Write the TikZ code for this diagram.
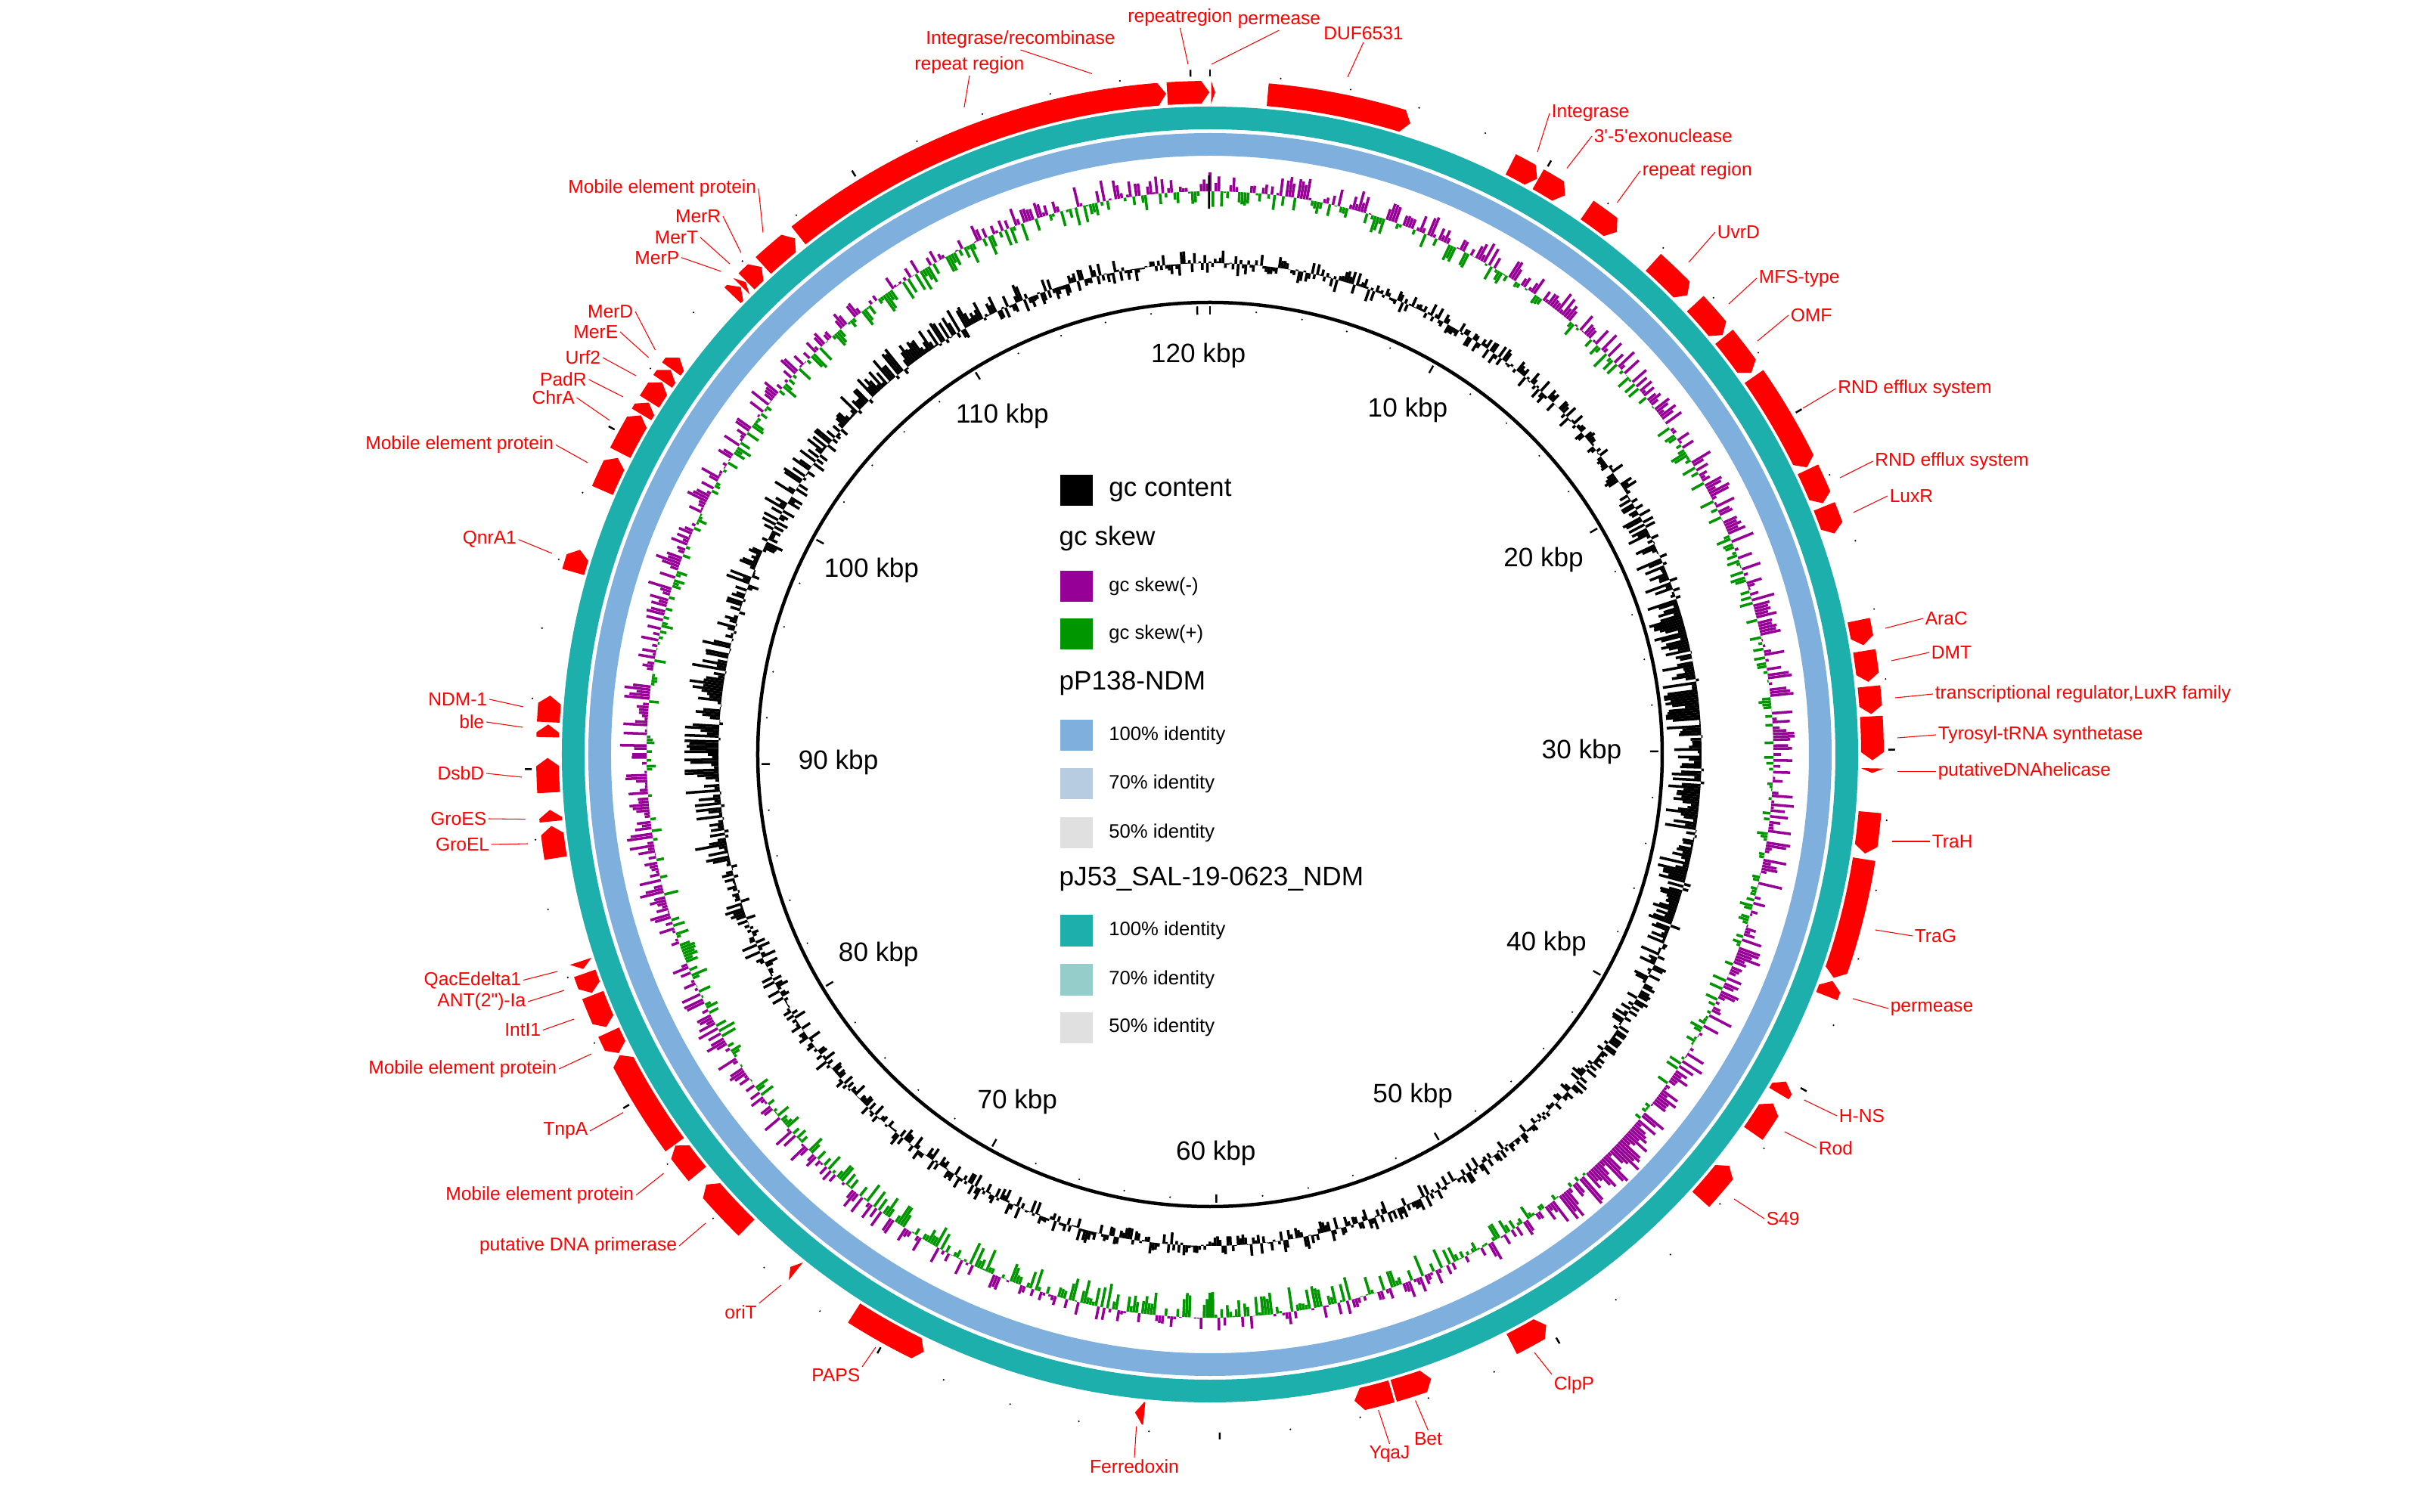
\documentclass[tikz,border=0pt]{standalone}
\usepackage{fontspec}
\setmainfont{Liberation Sans}
\usepackage{tikz}
\usetikzlibrary{positioning}

\definecolor{genered}{RGB}{255,0,0}
\definecolor{skewneg}{RGB}{150,0,150}
\definecolor{skewpos}{RGB}{0,150,0}
\definecolor{ringblue}{RGB}{127,175,221}
\definecolor{ringblue70}{RGB}{183,204,224}
\definecolor{ringteal}{RGB}{28,175,172}
\definecolor{ringteal70}{RGB}{148,205,202}
\definecolor{ringgray}{RGB}{224,224,224}

\newcommand{\rin}{8.61}
\newcommand{\rout}{8.91}
\newcommand{\rmid}{8.76}
\newcommand{\plen}{120.55}
\newcommand{\bump}[3]{max(0,1-((#1-(#2))/(#3))^2)}

% one feature arrow: start, end (degrees clockwise from top), direction 1 / -1
\newcommand{\gene}[3]{%
  \pgfmathsetmacro{\gt}{min(0.7,#2-#1)}%
  \ifnum#3>0
    \pgfmathsetmacro{\gs}{90-(#1)}\pgfmathsetmacro{\gp}{90-(#2)}\pgfmathsetmacro{\gk}{\gp+\gt}%
  \else
    \pgfmathsetmacro{\gs}{90-(#2)}\pgfmathsetmacro{\gp}{90-(#1)}\pgfmathsetmacro{\gk}{\gp-\gt}%
  \fi
  \fill[gene] (\gs:\rout) arc[start angle=\gs, end angle=\gk, radius=\rout] -- (\gp:\rmid) -- (\gk:\rin) arc[start angle=\gk, end angle=\gs, radius=\rin] -- cycle;%
}

\begin{document}
\begin{tikzpicture}
	\tikzstyle{gene}=[fill=genered]
	\tikzstyle{gclab}=[red, font=\fontsize{7}{8}\selectfont, inner sep=0.6pt]
	\tikzstyle{leader}=[red, line width=0.3pt]
	\tikzstyle{kbp}=[font=\fontsize{10}{12}\selectfont, inner sep=0pt]
	\tikzstyle{gcbar}=[black, line width=1pt]
	\tikzstyle{skewbar}=[line width=1pt]
	\tikzstyle{key}=[minimum width=0.43cm, minimum height=0.41cm, inner sep=0pt]
	\tikzstyle{keyhead}=[font=\fontsize{10}{12}\selectfont, inner sep=0pt, anchor=west]
	\tikzstyle{keytxt}=[font=\fontsize{7.3}{9}\selectfont, inner sep=0pt]
	\useasboundingbox (-16,-10.02) rectangle (16,9.98);
	\fill[white] (-16,-10.02) rectangle (16,9.98);
	% BLAST rings
	\fill[ringteal, even odd rule] (0,0) circle (8.57) (0,0) circle (8.27);
	\fill[ringblue, even odd rule] (0,0) circle (8.22) (0,0) circle (7.92);
	% gc content and gc skew
	\pgfmathsetseed{2024}
	\foreach \i in {0,...,1199}{
		\pgfmathsetmacro{\tht}{\i*0.3}
		\pgfmathsetmacro{\ph}{90-\tht}
		\pgfmathsetmacro{\vg}{max(-45,min(45,-24*\bump{\tht}{88}{30}+24*\bump{\tht}{272}{24}+12*\bump{\tht}{318}{22}+(17+12*\bump{\tht}{88}{35}+12*\bump{\tht}{275}{35}+8*\bump{\tht}{320}{25})*rand))}
		\draw[gcbar] (\ph:6.50) -- (\ph:{6.50+\vg/100});
		\pgfmathsetmacro{\vs}{max(-45,min(45,3+5*\bump{\tht}{100}{45}+16*\bump{\tht}{137}{8}-12*\bump{\tht}{185}{40}+7*\bump{\tht}{275}{30}-5*\bump{\tht}{330}{20}+26*rand))}
		\ifdim\vs pt>0pt \def\skc{skewneg}\else\def\skc{skewpos}\fi
		\draw[skewbar, \skc] (\ph:7.45) -- (\ph:{7.45+\vs/100});
	}
	\draw[line width=0.8pt] (90.1:7.22) -- (90.1:7.66);
	% scale circle and ticks
	\draw[line width=0.045cm] (0,0) circle (5.98);
	\pgfmathsetmacro{\stepang}{720/\plen}
	\foreach \k in {0,...,60}{
		\pgfmathsetmacro{\ph}{90-\k*\stepang}
		\pgfmathtruncatemacro{\maj}{mod(\k,5)==0}
		\ifnum\maj=1
			\draw[line width=0.7pt] (\ph:5.82) -- (\ph:5.93);
			\draw[line width=0.7pt] (\ph:8.97) -- (\ph:9.06);
		\else
			\fill (\ph:5.88) circle (0.012);
			\fill (\ph:8.99) circle (0.012);
		\fi
	}
	\foreach \k in {1,...,12}{
		\pgfmathsetmacro{\ph}{90-5*\k*\stepang}
		\pgfmathtruncatemacro{\an}{mod(\ph+720,360)}
		\node[kbp, anchor=\an] (kbp\k) at (\ph:5.45) {\k0 kbp};
	}
	% features
	\foreach \a/\b/\d in {321.6/356.2/1, 356.3/359.95/1, 0.1/0.45/1, 5.0/17.6/1,
		27.0/29.6/1, 29.7/32.4/1, 34.7/37.9/1, 42.0/46.1/1, 47.1/50.7/1, 50.9/54.8/1,
		55.2/64.3/1, 64.5/67.7/1, 68.0/70.5/1, 78.3/80.5/1, 81.0/83.7/1, 84.1/86.5/1,
		86.7/90.5/1, 91.2/91.6/1, 95.0/98.6/1, 99.1/109.7/1, 110.0/111.4/-1,
		119.6/120.8/-1, 121.8/124.9/-1, 128.4/132.2/-1, 149.5/152.9/-1, 160.5/163.9/-1,
		164.1/167.4/1, 185.7/186.5/1, 205.6/212.5/-1, 218.7/219.3/1, 224.4/229.5/1,
		230.7/233.8/1, 233.9/243.0/1, 243.2/245.2/-1, 245.7/248.7/-1, 248.9/250.7/-1,
		251.1/251.8/-1, 261.0/263.8/1, 264.2/265.2/1, 266.7/269.7/1, 271.5/272.6/1,
		272.8/275.1/1, 286.0/288.0/1, 293.5/296.6/1, 297.1/300.8/1, 300.9/302.1/1,
		302.2/304.2/1, 304.3/305.5/1, 305.6/306.8/1, 313.9/314.9/1, 315.0/315.5/1,
		315.6/317.4/1, 317.6/321.2/1}{
		\gene{\a}{\b}{\d}
	}
	% feature labels
	\foreach \nm/\tx/\an/\lx/\ly/\px/\py in {
		rep1/repeat region/south/-3.18/8.98/-3.25/8.56,
		intr/{Integrase/recombinase}/south/-2.505/9.32/-1.56/9.005,
		rep3/repeatregion/south/-0.395/9.61/-0.29/9.13,
		perm1/permease/south/0.915/9.58/0.02/9.13,
		duf/DUF6531/south/2.03/9.42/1.82/8.96,
		int/Integrase/west/4.49/8.48/4.33/7.97,
		exo/3\textquotesingle-5\textquotesingle exonuclease/west/5.05/8.18/4.72/7.755,
		rep2/repeat region/west/5.69/7.72/5.385/7.30,
		uvrd/UvrD/west/6.68/6.91/6.33/6.51,
		mfs/MFS-type/west/7.23/6.30/6.86/5.96,
		omf/OMF/west/7.65/5.81/7.24/5.47,
		rnd1/RND efflux system/west/8.275/4.84/7.84/4.58,
		rnd2/RND efflux system/west/8.766/3.88/8.33/3.66,
		luxr/LuxR/west/8.96/3.42/8.507/3.20,
		arac/AraC/west/9.43/1.80/8.93/1.67,
		dmt/DMT/west/9.51/1.35/9.01/1.24,
		trr/{transcriptional regulator,LuxR family}/west/9.56/0.80/9.06/0.75,
		tyr/Tyrosyl-tRNA synthetase/west/9.60/0.26/9.09/0.22,
		hel/putativeDNAhelicase/west/9.60/-0.225/9.09/-0.225,
		trah/TraH/west/9.52/-1.15/9.02/-1.15,
		trag/TraG/west/9.29/-2.40/8.796/-2.32,
		perm2/permease/west/8.97/-3.36/8.50/-3.23,
		hns/H-NS/west/8.29/-4.78/7.856/-4.57,
		rod/Rod/west/8.02/-5.205/7.597/-4.99,
		s49/S49/west/7.33/-6.14/6.93/-5.88,
		clpp/ClpP/north west/4.52/-8.20/4.29/-7.91,
		bet/Bet/north/2.885/-8.94/2.716/-8.545,
		yqaj/YqaJ/north/2.375/-9.12/2.227/-8.67,
		fer/Ferredoxin/north/-1.00/-9.30/-0.973/-8.886,
		paps/PAPS/north east/-4.60/-8.10/-4.42/-7.84,
		orit/oriT/north east/-5.964/-7.26/-5.674/-7.02,
		prim/putative DNA primerase/east/-7.02/-6.50/-6.67/-6.20,
		mob2/Mobile element protein/east/-7.59/-5.83/-7.224/-5.54,
		tnpa/TnpA/east/-8.20/-4.98/-7.76/-4.736,
		mob3/Mobile element protein/east/-8.61/-4.16/-8.18/-3.96,
		intl/IntI1/east/-8.82/-3.645/-8.41/-3.50,
		ant/ANT(2\textquotedbl)-Ia/east/-9.02/-3.27/-8.54/-3.12,
		qac/QacEdelta1/east/-9.08/-2.985/-8.63/-2.87,
		groel/GroEL/east/-9.50/-1.19/-9.02/-1.18,
		groes/GroES/east/-9.54/-0.85/-9.054/-0.856,
		dsbd/DsbD/east/-9.57/-0.25/-9.10/-0.30,
		ble/ble/east/-9.57/0.43/-9.09/0.36,
		ndm/NDM-1/east/-9.53/0.73/-9.08/0.63,
		qnr/QnrA1/east/-9.143/2.843/-8.70/2.66,
		mob4/Mobile element protein/east/-8.65/4.095/-8.23/3.86,
		chra/ChrA/east/-8.375/4.72/-7.94/4.42,
		padr/PadR/east/-8.215/4.96/-7.76/4.73,
		urf/Urf2/east/-8.03/5.25/-7.59/5.01,
		mere/MerE/east/-7.80/5.59/-7.424/5.25,
		merd/MerD/east/-7.60/5.86/-7.335/5.35,
		merp/MerP/east/-6.99/6.573/-6.465/6.39,
		mert/MerT/east/-6.74/6.84/-6.35/6.49,
		merr/MerR/east/-6.44/7.12/-6.20/6.635,
		mob1/Mobile element protein/east/-5.97/7.485/-5.91/6.905}{
		\node[gclab, anchor=\an] (l-\nm) at (\lx,\ly) {\tx};
		\coordinate (p-\nm) at (\px,\py);
		\draw[leader] (l-\nm.\an) -- (p-\nm);
	}
	% legend
	\node[key, fill=black] (k-gc) at (-1.765,3.49) {};
	\node[keytxt, font=\fontsize{10}{12}\selectfont, right=0.2cm of k-gc] (t-gc) {gc content};
	\node[keyhead] (h-skew) at (-2.00,2.86) {gc skew};
	\node[key, fill=skewneg] (k-neg) at (-1.765,2.22) {};
	\node[keytxt, right=0.2cm of k-neg] (t-neg) {gc skew(-)};
	\node[key, fill=skewpos] (k-pos) at (-1.765,1.59) {};
	\node[keytxt, right=0.2cm of k-pos] (t-pos) {gc skew(+)};
	\node[keyhead] (h-p138) at (-2.00,0.94) {pP138-NDM};
	\node[key, fill=ringblue] (k-b100) at (-1.765,0.25) {};
	\node[keytxt, right=0.2cm of k-b100] (t-b100) {100\% identity};
	\node[key, fill=ringblue70] (k-b70) at (-1.765,-0.39) {};
	\node[keytxt, right=0.2cm of k-b70] (t-b70) {70\% identity};
	\node[key, fill=ringgray] (k-b50) at (-1.765,-1.04) {};
	\node[keytxt, right=0.2cm of k-b50] (t-b50) {50\% identity};
	\node[keyhead] (h-j53) at (-2.00,-1.65) {pJ53\_SAL-19-0623\_NDM};
	\node[key, fill=ringteal] (k-t100) at (-1.765,-2.33) {};
	\node[keytxt, right=0.2cm of k-t100] (t-t100) {100\% identity};
	\node[key, fill=ringteal70] (k-t70) at (-1.765,-2.98) {};
	\node[keytxt, right=0.2cm of k-t70] (t-t70) {70\% identity};
	\node[key, fill=ringgray] (k-t50) at (-1.765,-3.61) {};
	\node[keytxt, right=0.2cm of k-t50] (t-t50) {50\% identity};
\end{tikzpicture}
\end{document}
